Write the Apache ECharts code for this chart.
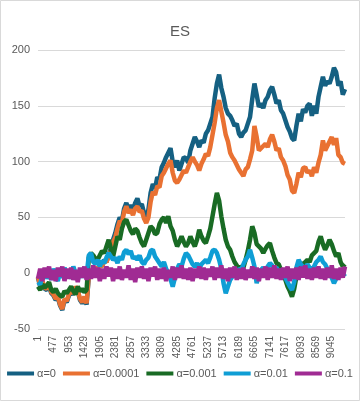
<!DOCTYPE html>
<html>
<head>
<meta charset="utf-8">
<script src="https://cdn.jsdelivr.net/npm/echarts@6/dist/echarts.min.js"></script>
<style>html,body{margin:0;padding:0;background:#fff}#c{width:360px;height:401px}</style>
</head>
<body>
<div id="c"></div>
<script>
// x categories: every 68th step of 1..9500 (labels shown every 476)
const categoryStep = 68;
const categoryCount = 140;
const categories = [];
for (let i = 0; i < categoryCount; i++) categories.push(String(1 + i * categoryStep));

const seriesNames = ['α=0', 'α=0.0001', 'α=0.001', 'α=0.01', 'α=0.1'];

const a0 = [-4,-12,-8,-14,-15,-11,-18,-20,-24,-22,-29,-33,-24,-26,-20,-17,-19,-13,-16,-24,-27,-22,-28,-3,2,-1,5,3,8,6,12,10,17,22,30,36,44,50,47,58,63,57,61,56,63,67,60,62,54,50,57,72,80,76,86,84,95,99,104,108,112,100,95,101,92,98,104,103,99,110,116,122,118,113,119,117,125,128,134,140,157,170,178,166,158,148,143,141,137,132,134,125,122,126,128,134,140,156,170,160,149,152,148,155,158,164,167,160,152,155,146,143,137,131,127,121,119,132,143,136,147,144,150,152,141,150,143,158,167,176,168,172,170,176,184,180,168,172,160,165];

const a0001 = [-3,-11,-7,-13,-14,-10,-17,-19,-23,-21,-28,-32,-23,-25,-19,-16,-18,-12,-15,-23,-26,-21,-27,-2,2,0,5,3,7,6,11,10,15,20,28,32,40,47,45,55,60,54,57,52,58,60,55,56,49,45,50,64,73,70,78,77,87,90,94,98,101,90,83,81,84,88,92,90,95,100,104,100,97,92,98,102,107,105,113,124,135,148,155,145,135,124,118,108,104,101,97,93,90,87,93,95,102,110,132,122,110,112,114,116,113,120,124,118,110,112,104,101,96,88,84,74,72,80,90,86,94,95,90,92,87,95,90,99,106,119,110,114,118,122,115,121,106,104,99,98];

const a001 = [-12,-15,-10,-13,-11,-8,-15,-17,-14,-18,-20,-21,-16,-18,-15,-12,-16,-19,-12,-16,-14,-17,-15,14,18,16,13,12,16,20,18,24,30,22,15,24,33,30,40,46,48,43,38,35,40,38,32,27,24,30,36,42,40,35,36,44,48,50,45,51,42,38,30,24,28,33,28,24,27,33,28,24,30,39,33,29,27,33,40,51,62,72,65,51,40,30,24,21,15,10,7,4,6,5,12,20,30,42,36,26,24,22,18,22,25,27,20,14,9,8,3,0,-6,-12,-16,-21,-14,-3,5,9,8,10,12,10,16,18,20,28,33,26,21,25,30,26,20,15,18,10,6,8];

const a01 = [-8,-10,-2,3,-5,2,-6,4,-3,-7,1,-4,5,-2,3,-5,6,0,-6,2,-4,3,-2,16,18,10,8,12,6,11,9,14,18,15,12,14,9,15,12,19,21,17,20,13,15,12,16,10,8,12,14,20,21,15,12,9,6,10,4,0,-5,-12,-4,4,8,6,13,18,16,12,8,6,9,4,8,10,12,9,14,20,21,18,12,4,-9,-18,-12,-6,-3,2,0,4,3,8,12,15,21,14,6,-9,-2,3,5,2,6,9,7,3,5,1,3,0,-4,-8,-12,-15,-8,5,12,8,6,4,8,5,3,6,10,12,15,10,8,4,1,-4,-9,-5,2,-3,0,-3];

const a1 = [-5,4,-7,5,-4,6,-6,3,-7,5,-3,6,-7,4,-5,5,-6,3,-8,5,-4,6,-6,4,-5,7,-4,5,-7,4,-5,6,-3,5,-7,4,-5,6,-6,3,-4,7,-6,4,-8,5,-4,6,-5,4,-7,5,-3,6,-6,4,-5,5,-7,3,-4,6,-6,5,-4,7,-5,4,-6,5,-7,4,-4,6,-5,5,-6,4,-3,6,-6,5,-4,7,-5,4,-7,5,-4,6,-6,4,-5,5,-6,3,-4,6,-5,5,-7,4,-4,6,-6,5,-4,7,-5,4,-6,5,-4,6,-7,4,-5,5,-6,6,-4,7,-5,4,-6,5,-4,6,-5,4,-6,5,-4,7,-5,4,-6,5,-4,6];

const colors = ['#156082', '#E97132', '#196B24', '#0F9ED5', '#A02B93'];
const allData = [a0, a0001, a001, a01, a1];

const textColor = '#595959';
const font = 'Liberation Sans, Arial, sans-serif';

const chart = echarts.init(document.getElementById('c'), null, {renderer: 'canvas'});
chart.setOption({
  animation: false,
  backgroundColor: '#fff',
  title: {
    text: 'ES', left: 'center', top: 19,
    textStyle: {fontSize: 15, fontWeight: 'normal', color: textColor, fontFamily: font}
  },
  graphic: [{
    type: 'rect', shape: {x: 0.5, y: 0.5, width: 359, height: 400},
    style: {fill: 'none', stroke: '#d9d9d9', lineWidth: 1}, silent: true
  }],
  legend: {
    bottom: 17, left: 'center',
    icon: 'rect', itemWidth: 27, itemHeight: 4, itemGap: 7,
    textStyle: {fontSize: 11, color: textColor, fontFamily: font, padding: [0, 0, 0, -2]},
    data: seriesNames
  },
  grid: {left: 38, right: 15, top: 50, bottom: 72, containLabel: false},
  xAxis: {
    type: 'category', data: categories, boundaryGap: false,
    axisLine: {show: true, lineStyle: {color: '#d9d9d9'}},
    axisTick: {show: false},
    axisLabel: {interval: 6, rotate: 90, fontSize: 10, color: textColor, fontFamily: font, margin: 7}
  },
  yAxis: {
    type: 'value', min: -50, max: 200, interval: 50,
    axisLine: {show: false}, axisTick: {show: false},
    splitLine: {lineStyle: {color: '#d9d9d9', width: 1}},
    axisLabel: {fontSize: 11, color: textColor, fontFamily: font, margin: 8}
  },
  series: seriesNames.map((n, k) => ({
    name: n, type: 'line', data: allData[k], showSymbol: false, symbol: 'none',
    lineStyle: {color: colors[k], width: 4.5}, itemStyle: {color: colors[k]},
    z: 2 + k
  }))
});
</script>
</body>
</html>
